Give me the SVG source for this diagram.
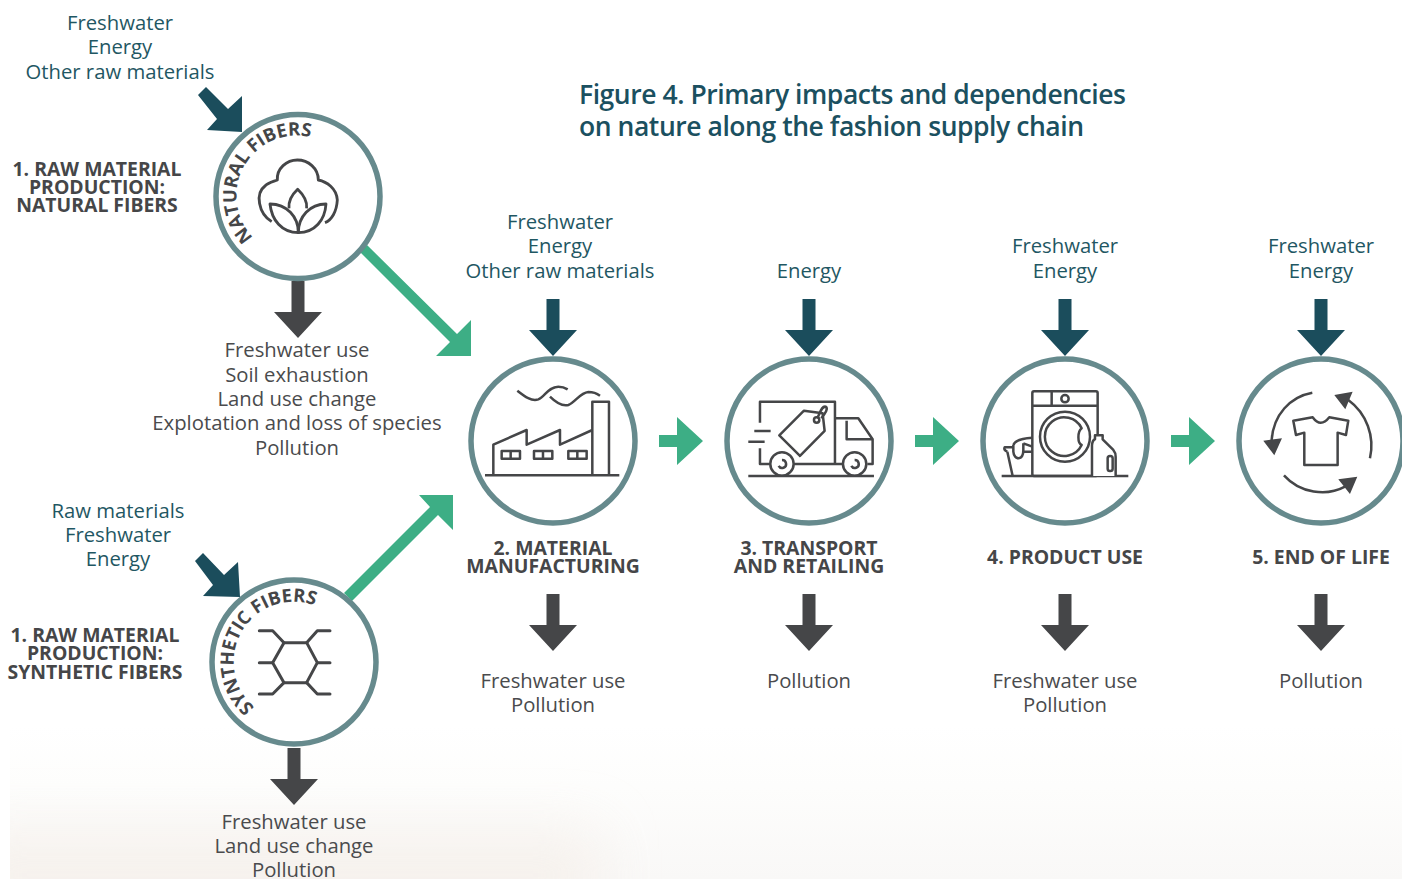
<svg xmlns="http://www.w3.org/2000/svg" width="1402" height="879" viewBox="0 0 1402 879">
<style>
text{font-family:"Open Sans","Noto Sans",sans-serif}
.t{font-size:20.3px;fill:#1f5763;text-anchor:middle}
.g{font-size:20.3px;fill:#4a4b4d;text-anchor:middle}
.h{font-size:19.4px;font-weight:700;fill:#454648;text-anchor:middle}
.c{font-size:18.5px;font-weight:700;fill:#454648}
.title{font-size:26.5px;font-weight:600;fill:#1b5060;letter-spacing:-.45px}
.ring{fill:#fff;stroke:#668a8d;stroke-width:5.5}
.i{fill:none;stroke:#454648;stroke-width:7.5;stroke-linejoin:round}
.d{fill:#1b4d5c}.k{fill:#454648}.e{fill:#3dae85}
</style>
<defs>
<linearGradient id="bg" x1="0" y1="0" x2="0" y2="1"><stop offset="0" stop-color="#fff"/><stop offset=".4" stop-color="#fdfdfc"/><stop offset="1" stop-color="#f9f8f7"/></linearGradient>
<filter id="soft" x="-30%" y="-100%" width="160%" height="300%"><feGaussianBlur stdDeviation="28"/></filter>
<clipPath id="band"><rect x="10" y="725" width="1392" height="154"/></clipPath>
<path id="dn" d="M-6.5,-57H6.5V-26H24L0,0L-24,-26H-6.5Z"/>
<path id="rt" d="M0,-6H18V-24L44,0L18,24V6H0Z"/>
<path id="pa" d="M253.4,237.3A60,60 0 0 1 328,144.5"/>
<path id="pb" d="M254.6,707.3A60,60 0 0 1 325,610.6"/>
</defs>
<g id="background" clip-path="url(#band)">
<rect x="10" y="725" width="1392" height="154" fill="url(#bg)"/>
<rect x="-40" y="830" width="640" height="90" fill="#f5efe9" opacity=".7" filter="url(#soft)"/>
</g>

<g id="connectors">
<path class="d" d="M198,95L206,87L228,109L242,96V132L207,130L217,119Z"/>
<path class="d" d="M195,561L203,553L224,575L238,562L240,597L203,596L213,585Z"/>
<use href="#dn" x="553" y="356" class="d"/><use href="#dn" x="809" y="356" class="d"/><use href="#dn" x="1065" y="356" class="d"/><use href="#dn" x="1321" y="356" class="d"/>
<use href="#dn" x="298" y="338" class="k"/><use href="#dn" x="294" y="805" class="k"/>
<use href="#dn" x="553" y="651" class="k"/><use href="#dn" x="809" y="651" class="k"/><use href="#dn" x="1065" y="651" class="k"/><use href="#dn" x="1321" y="651" class="k"/>
<path class="e" d="M360,252L367,245L457,334L471,320V356H436L450,342Z"/>
<path class="e" d="M344,593L430,507L419,495H453V530L438,515L352,601Z"/>
<use href="#rt" x="659" y="441" class="e"/><use href="#rt" x="915" y="441" class="e"/><use href="#rt" x="1171" y="441" class="e"/>
</g>

<g id="title"><text class="title" x="579" y="104">Figure 4. Primary impacts and dependencies</text><text class="title" x="579" y="136">on nature along the fashion supply chain</text></g>

<g id="node-natural">
<circle class="ring" cx="298" cy="196.5" r="82"/>
<text class="c"><textPath href="#pa">NATURAL FIBERS</textPath></text>
<g transform="translate(190 80) scale(.3333)" class="i" style="stroke-width:8.5">
<path d="M245,425C205,400 195,340 225,318C235,308 250,305 262,300C260,265 290,240 322,240C355,240 385,265 385,300C410,305 440,325 442,360C440,395 425,420 405,428"/>
<path d="M297,385C295,365 305,345 323,328C341,345 352,365 350,385"/>
<path d="M240,372C290,372 325,410 325,458C275,458 245,420 240,372Z"/>
<path d="M408,372C360,372 325,410 325,458C375,458 405,420 408,372Z"/>
</g>
<text class="t"><tspan x="120" y="30">Freshwater</tspan><tspan x="120" y="54">Energy</tspan><tspan x="120" y="79">Other raw materials</tspan></text>
<text class="h"><tspan x="97" y="176">1. RAW MATERIAL</tspan><tspan x="97" y="194">PRODUCTION:</tspan><tspan x="97" y="212">NATURAL FIBERS</tspan></text>
<text class="g"><tspan x="297" y="357">Freshwater use</tspan><tspan x="297" y="382">Soil exhaustion</tspan><tspan x="297" y="406">Land use change</tspan><tspan x="297" y="430">Explotation and loss of species</tspan><tspan x="297" y="455">Pollution</tspan></text>
</g>

<g id="node-synthetic">
<circle class="ring" cx="294" cy="662" r="82"/>
<text class="c"><textPath href="#pb">SYNTHETIC FIBERS</textPath></text>
<g transform="translate(190 540) scale(.3333)" class="i" style="stroke-width:9">
<path d="M282,308H350L382,368L350,428H282L248,368Z"/>
<path d="M282,308L248,272H208M350,308L382,272H420M248,368H208M382,368H420M282,428L248,462H208M350,428L382,462H420" stroke-linecap="round"/>
</g>
<text class="t"><tspan x="118" y="518">Raw materials</tspan><tspan x="118" y="542">Freshwater</tspan><tspan x="118" y="566">Energy</tspan></text>
<text class="h"><tspan x="95" y="642">1. RAW MATERIAL</tspan><tspan x="95" y="660">PRODUCTION:</tspan><tspan x="95" y="679">SYNTHETIC FIBERS</tspan></text>
<text class="g"><tspan x="294" y="829">Freshwater use</tspan><tspan x="294" y="853">Land use change</tspan><tspan x="294" y="877">Pollution</tspan></text>
</g>

<g id="node-manufacturing">
<circle class="ring" cx="553" cy="441" r="82"/>
<g transform="translate(460 350) scale(.3333)" class="i">
<path d="M75,376H478M100,376V284L200,240V284L300,240V284L397,240M397,376V155H447V376"/>
<path d="M172,122C195,140 215,155 235,148C255,140 265,110 295,110Q310,110 323,118M270,140C285,155 305,170 325,165C345,158 360,128 385,126Q405,126 420,137"/>
<path d="M125,303h55v23h-55zM152,303v23M222,303h55v23h-55zM249,303v23M325,303h55v23h-55zM352,303v23"/>
</g>
<text class="t"><tspan x="560" y="229">Freshwater</tspan><tspan x="560" y="253">Energy</tspan><tspan x="560" y="278">Other raw materials</tspan></text>
<text class="h"><tspan x="553" y="555">2. MATERIAL</tspan><tspan x="553" y="573">MANUFACTURING</tspan></text>
<text class="g"><tspan x="553" y="688">Freshwater use</tspan><tspan x="553" y="712">Pollution</tspan></text>
</g>

<g id="node-transport">
<circle class="ring" cx="809" cy="441" r="82"/>
<g transform="translate(460 350) scale(.3333)" class="i">
<path d="M900,218V155H1125V342H1000M900,295V342H930M1125,205H1195L1238,268V342H1222M1160,212V268H1238M1125,342H1148"/>
<circle cx="966" cy="342" r="35"/><circle cx="1184" cy="342" r="35"/>
<path d="M956,348A12,12 0 1 0 966,330M1174,348A12,12 0 1 0 1184,330"/>
<path d="M865,378H1242M883,243H932M865,275H914"/>
<path d="M958,256L1032,182L1088,190L1094,243L1020,318Z"/>
<circle cx="1070" cy="210" r="8"/><path d="M1072,205C1082,185 1085,168 1097,170C1106,175 1096,190 1084,205"/>
</g>
<text class="t"><tspan x="809" y="278">Energy</tspan></text>
<text class="h"><tspan x="809" y="555">3. TRANSPORT</tspan><tspan x="809" y="573">AND RETAILING</tspan></text>
<text class="g"><tspan x="809" y="688">Pollution</tspan></text>
</g>

<g id="node-use">
<circle class="ring" cx="1065" cy="441" r="82"/>
<g transform="translate(970 350) scale(.3333)" class="i">
<rect x="187" y="124" width="196" height="254" rx="5"/>
<path d="M187,167H383M245,124V167M95,378H475"/>
<circle cx="285" cy="146" r="11"/><circle cx="285" cy="260" r="75"/>
<path d="M335,235A58,58 0 1 0 335,285C322,280 322,245 335,235Z"/>
<path d="M366,378V285Q368,270 375,268V256H398V268L430,300Q438,310 437,320V378" fill="#fff"/>
<rect x="413" y="318" width="15" height="45" rx="7"/>
<path d="M112,305L128,378M112,305Q100,300 104,292H130M130,285V305C132,332 160,332 160,300V280M130,285C135,272 150,265 187,263M160,280L187,290M160,305H187"/>
</g>
<text class="t"><tspan x="1065" y="253">Freshwater</tspan><tspan x="1065" y="278">Energy</tspan></text>
<text class="h"><tspan x="1065" y="564">4. PRODUCT USE</tspan></text>
<text class="g"><tspan x="1065" y="688">Freshwater use</tspan><tspan x="1065" y="712">Pollution</tspan></text>
</g>

<g id="node-end">
<circle class="ring" cx="1321" cy="441" r="82"/>
<g transform="translate(970 350) scale(.3333)" class="i">
<path d="M970,212L1028,202Q1052,235 1078,202L1135,212L1128,255L1103,248V345H1003V248L978,255Z"/>
<path d="M1027,128C960,140 910,195 905,270M1200,325C1215,260 1190,190 1135,150M942,376C990,430 1070,440 1125,410"/>
<path d="M880,272L936,265L913,316ZM1148,125L1093,135L1126,178ZM1162,380L1105,388L1140,432Z" fill="#454648" stroke="none"/>
</g>
<text class="t"><tspan x="1321" y="253">Freshwater</tspan><tspan x="1321" y="278">Energy</tspan></text>
<text class="h"><tspan x="1321" y="564">5. END OF LIFE</tspan></text>
<text class="g"><tspan x="1321" y="688">Pollution</tspan></text>
</g>
</svg>
